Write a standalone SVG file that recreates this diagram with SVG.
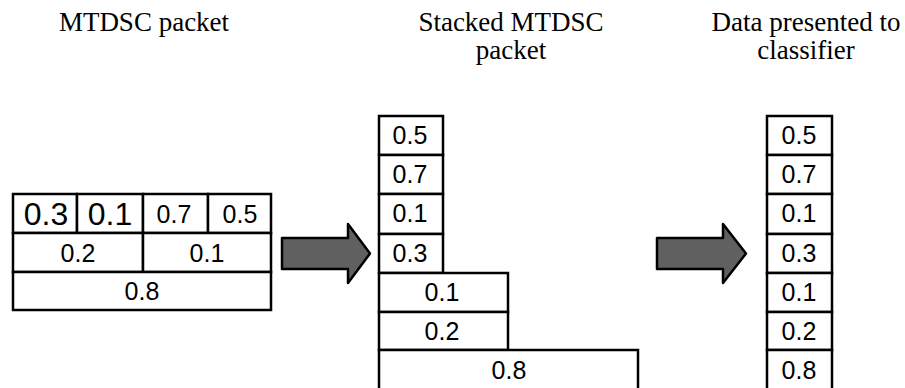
<svg xmlns="http://www.w3.org/2000/svg" width="905" height="388" viewBox="0 0 905 388">
<style>
.title{font-family:"Liberation Serif","Times New Roman",serif;font-size:27px;fill:#000;text-anchor:middle}
.cell{fill:#fff;stroke:#000;stroke-width:2.5}
.v{font-family:"Liberation Sans",Arial,sans-serif;font-size:25px;fill:#000;text-anchor:middle}
.vb{font-size:32px}
.arrow{fill:#606060;stroke:#000;stroke-width:2.5;stroke-linejoin:round}
</style>
<rect width="905" height="388" fill="#fff"/>
<g id="titles">
<text class="title" x="144" y="31">MTDSC packet</text>
<text class="title" x="511" y="31">Stacked MTDSC</text>
<text class="title" x="511" y="59">packet</text>
<text class="title" x="806" y="31">Data presented to</text>
<text class="title" x="806" y="59">classifier</text>
</g>
<g id="mtdsc-packet">
<rect class="cell" x="13" y="194" width="64" height="39"/>
<rect class="cell" x="77" y="194" width="66" height="39"/>
<rect class="cell" x="143" y="194" width="65" height="39"/>
<rect class="cell" x="208" y="194" width="63" height="39"/>
<rect class="cell" x="13" y="233" width="130" height="39"/>
<rect class="cell" x="143" y="233" width="128" height="39"/>
<rect class="cell" x="13" y="272" width="258" height="38"/>
<text class="v vb" x="46" y="225">0.3</text>
<text class="v vb" x="110" y="225">0.1</text>
<text class="v" x="174" y="223">0.7</text>
<text class="v" x="240" y="223">0.5</text>
<text class="v" x="78" y="262">0.2</text>
<text class="v" x="207" y="262">0.1</text>
<text class="v" x="142" y="300">0.8</text>
</g>
<g id="stacked-packet">
<rect class="cell" x="379" y="116" width="64" height="39"/>
<rect class="cell" x="379" y="155" width="64" height="39"/>
<rect class="cell" x="379" y="194" width="64" height="40"/>
<rect class="cell" x="379" y="234" width="64" height="39"/>
<rect class="cell" x="379" y="273" width="129" height="39"/>
<rect class="cell" x="379" y="312" width="129" height="38"/>
<rect class="cell" x="379" y="350" width="259" height="42"/>
<text class="v" x="410" y="144">0.5</text>
<text class="v" x="410" y="183">0.7</text>
<text class="v" x="410" y="222">0.1</text>
<text class="v" x="410" y="262">0.3</text>
<text class="v" x="442" y="301">0.1</text>
<text class="v" x="442" y="340">0.2</text>
<text class="v" x="509" y="379">0.8</text>
</g>
<g id="classifier-data">
<rect class="cell" x="767" y="116" width="65" height="39"/>
<rect class="cell" x="767" y="155" width="65" height="39"/>
<rect class="cell" x="767" y="194" width="65" height="40"/>
<rect class="cell" x="767" y="234" width="65" height="39"/>
<rect class="cell" x="767" y="273" width="65" height="39"/>
<rect class="cell" x="767" y="312" width="65" height="38"/>
<rect class="cell" x="767" y="350" width="65" height="42"/>
<text class="v" x="799" y="144">0.5</text>
<text class="v" x="799" y="183">0.7</text>
<text class="v" x="799" y="222">0.1</text>
<text class="v" x="799" y="262">0.3</text>
<text class="v" x="799" y="301">0.1</text>
<text class="v" x="799" y="340">0.2</text>
<text class="v" x="799" y="379">0.8</text>
</g>
<g id="connectors">
<path class="arrow" d="M282,238 H348 V224 L370,253.5 L348,283 V269 H282 Z"/>
<path class="arrow" d="M657,238 H723 V224 L746,253.5 L723,283 V269 H657 Z"/>
</g>
</svg>
